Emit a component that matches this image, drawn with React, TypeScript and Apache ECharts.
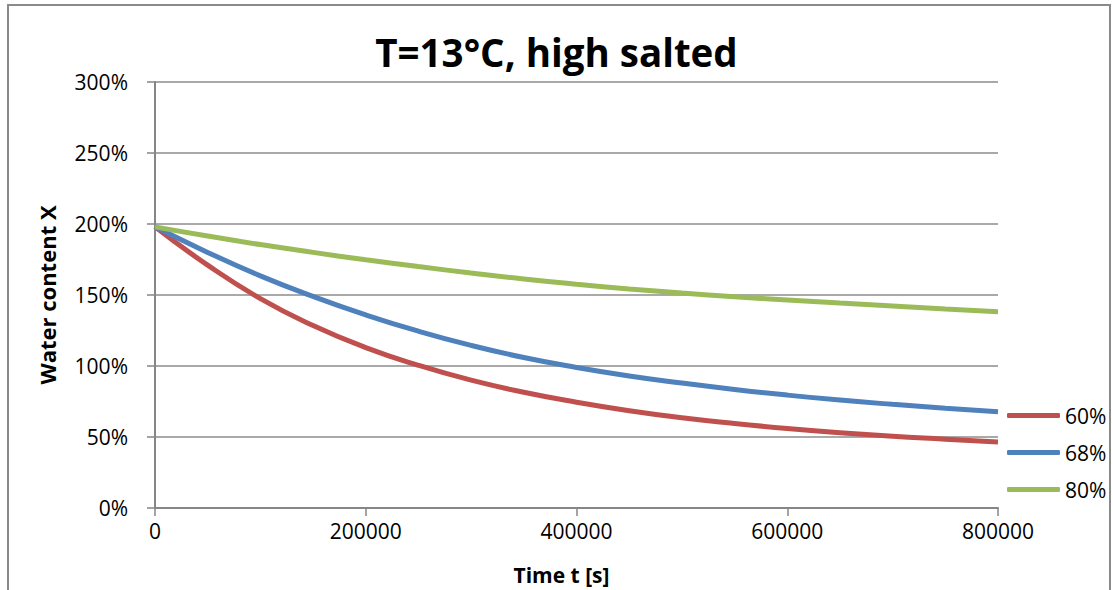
import React, { useEffect, useRef } from "react";
import * as echarts from "echarts";

const titleText = "T=13°C, high salted";
const xAxisTitle = "Time t [s]";
const yAxisTitle = "Water content X";
const seriesNames = ["60%", "68%", "80%"];
const seriesColors = ["#C0504D", "#4F81BD", "#9BBB59"];

const times = [
  0, 50000, 100000, 150000, 200000, 250000, 300000, 350000, 400000,
  450000, 500000, 550000, 600000, 650000, 700000, 750000, 800000,
];
const rh60 = [198, 171, 147.5, 128.5, 113, 100.5, 90, 81.5, 74.5, 68.5, 63.5, 59.5, 56, 53, 50.5, 48.5, 46.5];
const rh68 = [198, 180, 163.5, 149, 136, 124.5, 114.5, 106, 99, 93, 88, 83.5, 79.5, 76, 73, 70.3, 67.8];
const rh80 = [198, 191.5, 185.5, 180, 174.8, 170, 165.5, 161.3, 157.6, 154.3, 151.4, 148.8, 146.5, 144.3, 142.2, 140.1, 138.2];

const yTicks = { min: 0, max: 300, interval: 50 };
const xTicks = { min: 0, max: 800000, interval: 200000 };

const FONT = "'Open Sans', 'Noto Sans', sans-serif";

export default function App() {
  const ref = useRef<HTMLDivElement>(null);
  useEffect(() => {
    if (!ref.current) return;
    const chart = echarts.init(ref.current, null, { renderer: "svg" });
    const values = [rh60, rh68, rh80];
    chart.setOption({
      animation: false,
      backgroundColor: "#ffffff",
      textStyle: { fontFamily: FONT },
      title: {
        text: titleText,
        left: "center",
        top: 27,
        textStyle: { fontFamily: FONT, fontWeight: "bold", fontSize: 38.5, color: "#000" },
      },
      graphic: [
        {
          type: "rect",
          shape: { x: 8, y: 5, width: 1102, height: 620 },
          style: { fill: "none", stroke: "#8a8a8a", lineWidth: 2 },
          silent: true,
          z: 100,
        },
      ],
      legend: {
        orient: "vertical",
        left: 1007,
        top: 405,
        padding: 0,
        itemWidth: 53,
        itemHeight: 5,
        itemGap: 16,
        icon: "roundRect",
        textStyle: { fontFamily: FONT, fontSize: 21, color: "#000", lineHeight: 21 },
        data: seriesNames,
      },
      grid: { left: 155, right: 115, top: 82, bottom: 82, containLabel: false },
      xAxis: {
        type: "value",
        min: xTicks.min,
        max: xTicks.max,
        interval: xTicks.interval,
        name: xAxisTitle,
        nameLocation: "middle",
        nameGap: 56,
        nameTextStyle: { fontFamily: FONT, fontWeight: "bold", fontSize: 21, color: "#000", padding: [0, 30, 0, 0] },
        axisLine: { show: true, lineStyle: { color: "#868686", width: 2 } },
        axisTick: { show: true, length: 8, lineStyle: { color: "#868686", width: 1.5 } },
        axisLabel: {
          margin: 12,
          fontFamily: FONT,
          fontSize: 21,
          color: "#000",
          formatter: (v: number) => String(v),
        },
        splitLine: { show: false },
      },
      yAxis: {
        type: "value",
        min: yTicks.min,
        max: yTicks.max,
        interval: yTicks.interval,
        name: yAxisTitle,
        nameLocation: "middle",
        nameGap: 97,
        nameRotate: 90,
        nameTextStyle: { fontFamily: FONT, fontWeight: "bold", fontSize: 22, color: "#000" },
        axisLine: { show: true, lineStyle: { color: "#868686", width: 2 } },
        axisTick: { show: true, length: 8, lineStyle: { color: "#868686", width: 1.5 } },
        axisLabel: { margin: 27, fontFamily: FONT, fontSize: 21, color: "#000", formatter: "{value}%" },
        splitLine: { show: true, lineStyle: { color: "#8c8c8c", width: 1.5 } },
      },
      series: seriesNames.map((name, i) => ({
        name,
        type: "line",
        smooth: true,
        symbol: "none",
        color: seriesColors[i],
        lineStyle: { width: 5, color: seriesColors[i] },
        data: times.map((t, j) => [t, values[i][j]]),
      })),
    });
    return () => chart.dispose();
  }, []);
  return (
    <div
      ref={ref}
      style={{ position: "absolute", left: 0, top: 0, width: 1113, height: 590 }}
    />
  );
}
